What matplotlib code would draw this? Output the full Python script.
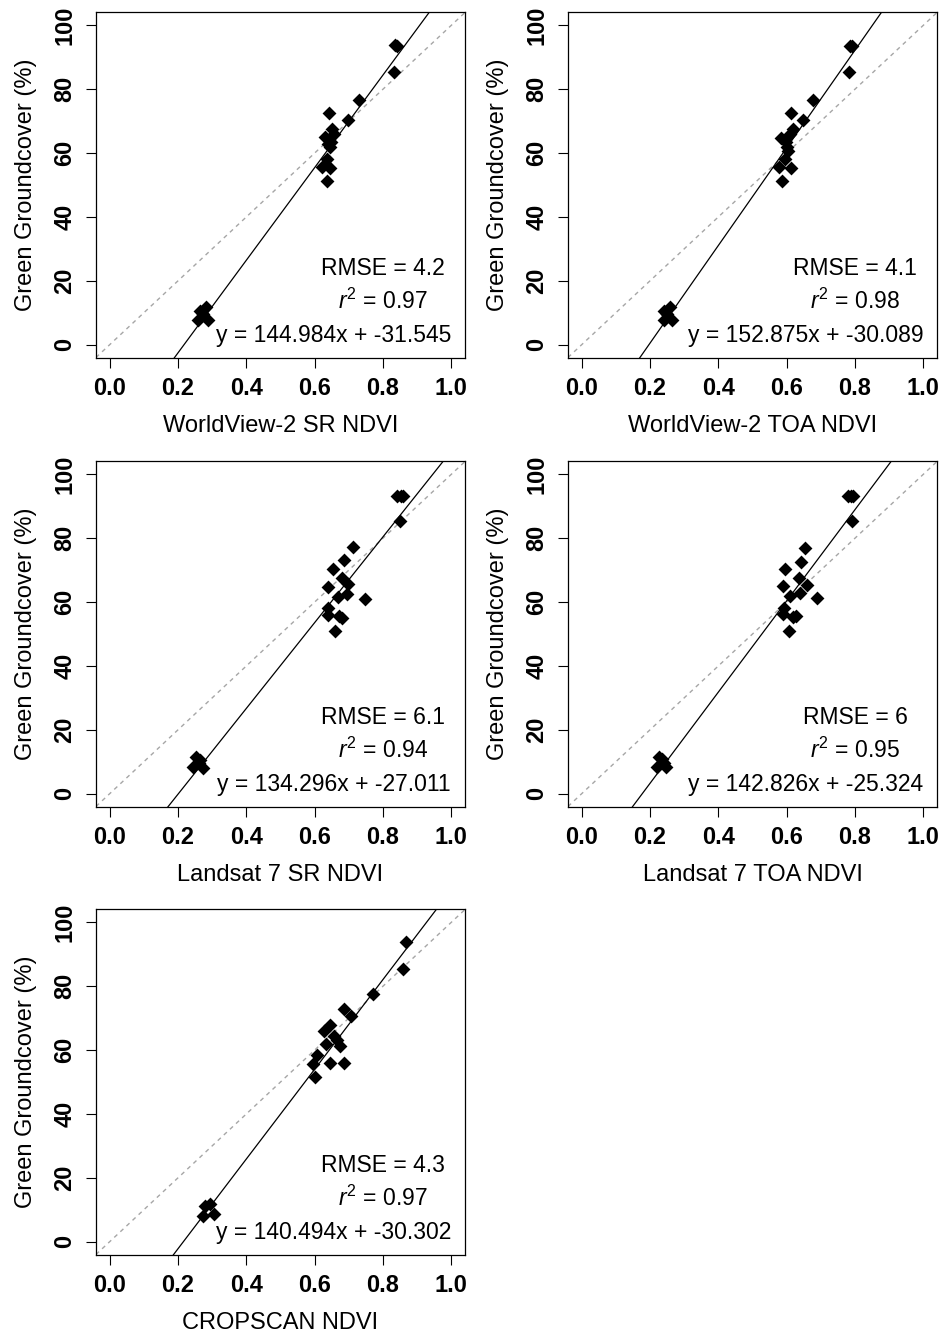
import numpy as np
import matplotlib
matplotlib.use("Agg")
import matplotlib.pyplot as plt

plt.rcParams['font.family'] = ['Liberation Sans', 'DejaVu Sans']
plt.rcParams['mathtext.fontset'] = 'custom'
plt.rcParams['mathtext.rm'] = 'Liberation Sans'
plt.rcParams['mathtext.it'] = 'Liberation Sans:italic'

# NDVI vs green groundcover
wv2_sr_x = [0.264, 0.282, 0.259, 0.288, 0.272, 0.630, 0.640, 0.645, 0.648, 0.636, 0.621,
            0.645, 0.636, 0.643, 0.652, 0.656, 0.697, 0.731, 0.831, 0.836, 0.841]
wv2_sr_y = [10.7, 11.7, 7.7, 7.6, 9.5, 65.0, 62.9, 61.8, 63.5, 58.2, 55.6,
            55.3, 51.1, 72.6, 67.6, 66.0, 70.2, 76.7, 85.4, 93.7, 93.4]

wv2_toa_x = [0.242, 0.259, 0.240, 0.264, 0.250, 0.584, 0.599, 0.602, 0.605, 0.594, 0.579,
             0.612, 0.587, 0.612, 0.618, 0.609, 0.648, 0.677, 0.783, 0.785, 0.791]
wv2_toa_y = [10.7, 11.7, 7.7, 7.7, 9.5, 64.8, 63.4, 61.9, 60.5, 58.2, 55.6,
             55.3, 51.1, 72.6, 67.6, 66.0, 70.2, 76.7, 85.4, 93.6, 93.4]

l7_sr_x = [0.254, 0.264, 0.244, 0.272, 0.262, 0.640, 0.640, 0.640, 0.667, 0.670, 0.679, 0.660,
           0.653, 0.681, 0.699, 0.694, 0.687, 0.712, 0.746, 0.850, 0.840, 0.852, 0.858]
l7_sr_y = [11.5, 10.4, 8.3, 8.0, 9.5, 64.8, 58.0, 56.0, 61.5, 55.7, 54.9, 51.0,
           70.5, 67.5, 65.6, 62.5, 73.1, 77.1, 61.1, 85.4, 93.2, 93.2, 93.2]

l7_toa_x = [0.227, 0.235, 0.221, 0.247, 0.240, 0.590, 0.593, 0.590, 0.611, 0.618, 0.627, 0.606,
            0.595, 0.637, 0.659, 0.640, 0.642, 0.655, 0.688, 0.792, 0.780, 0.788, 0.795]
l7_toa_y = [11.5, 10.9, 8.3, 8.3, 9.5, 64.9, 58.0, 56.3, 61.8, 55.2, 55.7, 51.0,
            70.5, 67.5, 65.3, 62.8, 72.6, 76.9, 61.3, 85.4, 93.2, 93.2, 93.2]

cropscan_x = [0.279, 0.293, 0.272, 0.305, 0.601, 0.596, 0.606, 0.645, 0.686, 0.633,
              0.626, 0.645, 0.657, 0.665, 0.674, 0.706, 0.686, 0.772, 0.860, 0.868]
cropscan_y = [11.3, 11.8, 8.2, 8.7, 51.5, 55.7, 58.6, 56.0, 56.0, 62.0,
              65.9, 67.9, 64.3, 63.0, 61.4, 70.8, 72.9, 77.4, 85.5, 93.8]

xlabels = ["WorldView-2 SR NDVI", "WorldView-2 TOA NDVI", "Landsat 7 SR NDVI",
           "Landsat 7 TOA NDVI", "CROPSCAN NDVI"]
slopes = [144.984, 152.875, 134.296, 142.826, 140.494]
intercepts = [-31.545, -30.089, -27.011, -25.324, -30.302]
rmse = ["4.2", "4.1", "6.1", "6", "4.3"]
r2 = ["0.97", "0.98", "0.94", "0.95", "0.97"]

xs = [wv2_sr_x, wv2_toa_x, l7_sr_x, l7_toa_x, cropscan_x]
ys = [wv2_sr_y, wv2_toa_y, l7_sr_y, l7_toa_y, cropscan_y]

W, H = 940, 1337
fig = plt.figure(figsize=(W / 100, H / 100), dpi=100)

# panel boxes in pixels: left, top
boxes = [(96, 12), (568, 12), (96, 461), (568, 461), (96, 909)]
bw, bh = 369, 346
fs = 16.5

for i, (bx, by) in enumerate(boxes):
    ax = fig.add_axes([bx / W, 1 - (by + bh) / H, bw / W, bh / H])
    ax.set_xlim(-0.04, 1.04)
    ax.set_ylim(-4.16, 104.16)

    # 1:1 line (NDVI scaled to percent)
    ax.axline((0, 0), slope=100, color="#a6a6a6", lw=1, dashes=(3, 3))
    ax.axline((0, intercepts[i]), slope=slopes[i], color="black", lw=0.9)
    ax.scatter(xs[i], ys[i], marker="D", s=50, color="black", linewidths=0, zorder=3)

    ax.set_xticks(np.arange(0, 1.01, 0.2))
    ax.set_yticks(np.arange(0, 101, 20))
    ax.set_xticklabels(["%.1f" % t for t in np.arange(0, 1.01, 0.2)], fontweight="bold", fontsize=17)
    ax.set_yticklabels([str(t) for t in range(0, 101, 20)], fontweight="bold", fontsize=17,
                       rotation=90, va="center")
    ax.tick_params(direction="out", length=7, width=0.8, pad=7)
    for s in ax.spines.values():
        s.set_linewidth(0.9)

    ax.text(0.5, -0.197, xlabels[i], transform=ax.transAxes, ha="center", va="center", fontsize=17)
    ax.text(-0.19, 0.5, "Green Groundcover (%)", transform=ax.transAxes, rotation=90,
            ha="center", va="center", fontsize=17)

    ax.text(0.8, 24, "RMSE = " + rmse[i], ha="center", va="center", fontsize=fs)
    ax.text(0.8, 13.5, r"$r^2$ = " + r2[i], ha="center", va="center", fontsize=fs)
    ax.text(0.655, 2.8, "y = %.3fx + %.3f" % (slopes[i], intercepts[i]),
            ha="center", va="center", fontsize=fs)

fig.savefig("out.png", dpi=100)
